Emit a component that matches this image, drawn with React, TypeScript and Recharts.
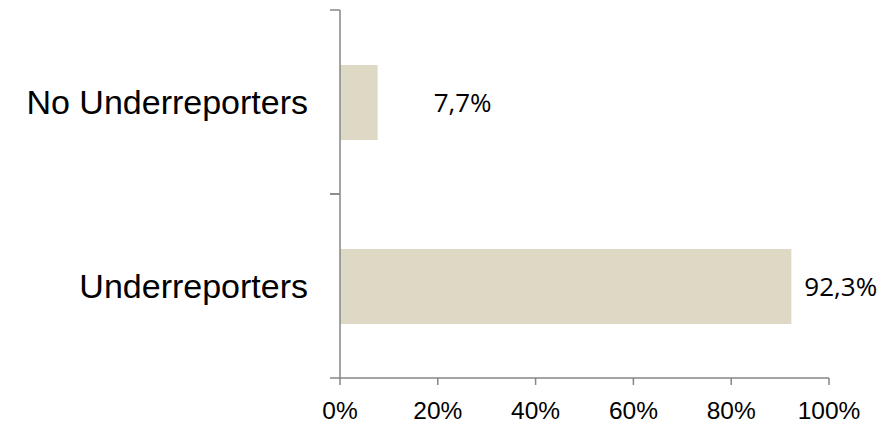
import { Bar, BarChart, LabelList, XAxis, YAxis } from "recharts";

const categories = ["No Underreporters", "Underreporters"];
const shares = [7.7, 92.3];
const xTicks = [0, 20, 40, 60, 80, 100];

const data = categories.map((name, i) => ({ name, value: shares[i] }));

const W = 883;
const H = 425;
const margin = { top: 10, right: 54, bottom: 0, left: 0 };
const xAxisHeight = 47;
const halfBand = (H - margin.top - margin.bottom - xAxisHeight) / categories.length / 2;
// excel moved the small bar's label out to the right
const labelShift = [56, 13];

const axisGrey = "#868686";
const armFont = "'Liberation Sans', Arial, sans-serif";

function CategoryTick(props: any) {
  const { x, y, payload } = props;
  return (
    <g>
      <line x1={x + 22} x2={x + 32} y1={y - halfBand} y2={y - halfBand} stroke={axisGrey} strokeWidth={1.5} />
      <line x1={x + 22} x2={x + 32} y1={y + halfBand} y2={y + halfBand} stroke={axisGrey} strokeWidth={1.5} />
      <text x={x} y={y} dy="0.355em" textAnchor="end" fontFamily={armFont} fontSize={34} fill="#000">
        {payload.value}
      </text>
    </g>
  );
}

function ValueLabel(props: any) {
  const { x, y, width, height, value, index } = props;
  return (
    <text
      x={x + width + labelShift[index]}
      y={y + height / 2}
      dy="0.355em"
      fontFamily="'Open Sans', sans-serif"
      fontSize={26}
      fill="#000"
    >
      {String(value).replace(".", ",") + "%"}
    </text>
  );
}

export default function App() {
  return (
    <div style={{ position: "absolute", left: 0, top: 0, width: W, height: H, background: "#fff" }}>
      <BarChart width={W} height={H} data={data} layout="vertical" margin={margin}>
        <XAxis
          type="number"
          domain={[0, 100]}
          ticks={xTicks}
          tickFormatter={(v) => `${v}%`}
          height={xAxisHeight}
          axisLine={{ stroke: axisGrey, strokeWidth: 1.5 }}
          tickLine={{ stroke: axisGrey, strokeWidth: 1.5 }}
          tickSize={7}
          tickMargin={17}
          tick={{ fill: "#000", fontSize: 24.5, fontFamily: armFont }}
          interval={0}
        />
        <YAxis
          type="category"
          dataKey="name"
          width={340}
          axisLine={{ stroke: axisGrey, strokeWidth: 1.5 }}
          tickLine={false}
          tickSize={0}
          tickMargin={32}
          tick={<CategoryTick />}
          interval={0}
        />
        <Bar dataKey="value" fill="#DDD9C4" barSize={75} isAnimationActive={false}>
          <LabelList dataKey="value" content={<ValueLabel />} />
        </Bar>
      </BarChart>
    </div>
  );
}
